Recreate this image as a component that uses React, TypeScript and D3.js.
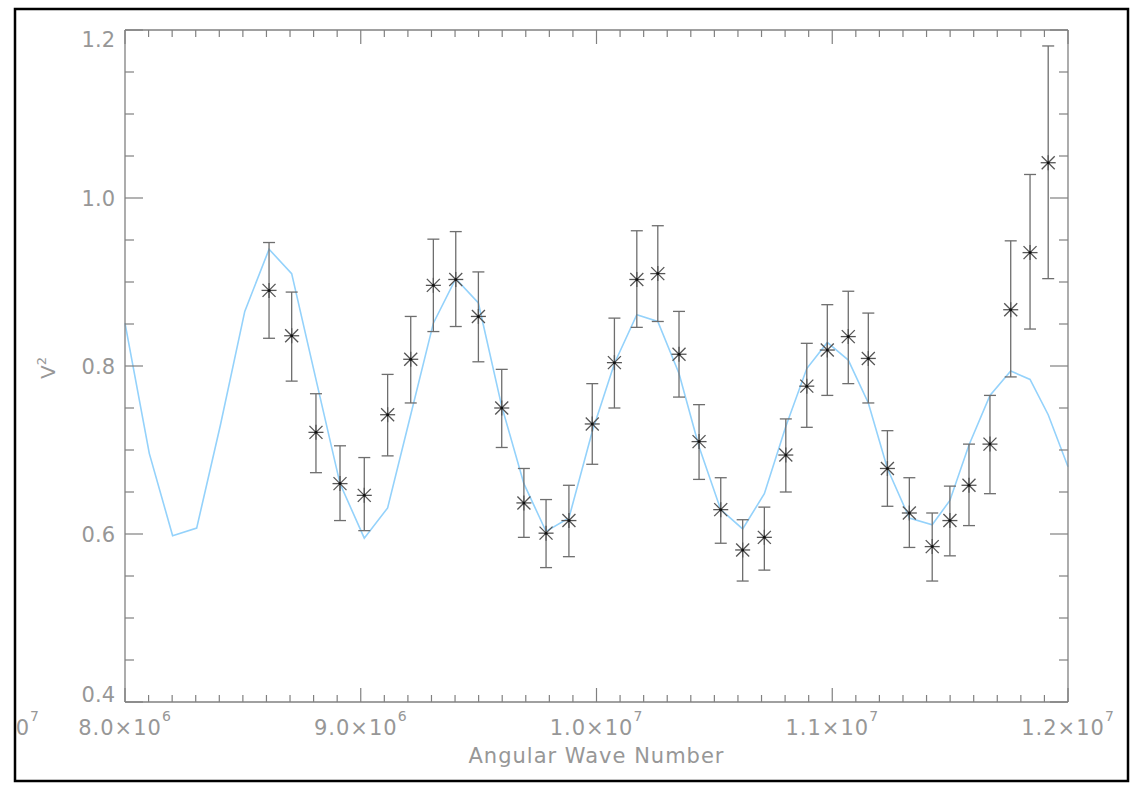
import React from "react";
import * as d3 from "d3";

// Observed data: angular wave number, V^2, error bar low/high
const obsX = [8.611e6, 8.707e6, 8.81e6, 8.912e6, 9.015e6, 9.114e6, 9.212e6, 9.308e6, 9.403e6, 9.499e6, 9.598e6, 9.692e6, 9.786e6, 9.883e6, 9.982e6, 10.076e6, 10.171e6, 10.26e6, 10.35e6, 10.435e6, 10.527e6, 10.62e6, 10.712e6, 10.803e6, 10.892e6, 10.979e6, 11.068e6, 11.153e6, 11.234e6, 11.327e6, 11.424e6, 11.499e6, 11.58e6, 11.669e6, 11.757e6, 11.839e6, 11.916e6];
const obsV2 = [0.89, 0.836, 0.721, 0.66, 0.646, 0.742, 0.808, 0.896, 0.903, 0.859, 0.75, 0.637, 0.601, 0.616, 0.731, 0.804, 0.903, 0.91, 0.814, 0.71, 0.629, 0.581, 0.596, 0.694, 0.776, 0.819, 0.835, 0.809, 0.678, 0.625, 0.585, 0.616, 0.658, 0.707, 0.867, 0.935, 1.042];
const obsHigh = [0.947, 0.888, 0.767, 0.705, 0.691, 0.79, 0.859, 0.951, 0.96, 0.912, 0.796, 0.678, 0.641, 0.658, 0.779, 0.857, 0.961, 0.967, 0.865, 0.754, 0.667, 0.617, 0.632, 0.737, 0.827, 0.873, 0.889, 0.863, 0.723, 0.667, 0.625, 0.657, 0.707, 0.765, 0.949, 1.028, 1.181];
const obsLow = [0.833, 0.782, 0.673, 0.616, 0.604, 0.693, 0.756, 0.841, 0.847, 0.805, 0.703, 0.596, 0.56, 0.573, 0.683, 0.75, 0.846, 0.853, 0.763, 0.665, 0.589, 0.544, 0.557, 0.65, 0.727, 0.765, 0.779, 0.756, 0.633, 0.584, 0.544, 0.574, 0.61, 0.648, 0.787, 0.844, 0.904];

// Model curve
const modelX = [8.0e6, 8.103e6, 8.202e6, 8.304e6, 8.405e6, 8.508e6, 8.611e6, 8.707e6, 8.81e6, 8.912e6, 9.015e6, 9.114e6, 9.212e6, 9.308e6, 9.403e6, 9.499e6, 9.598e6, 9.692e6, 9.786e6, 9.883e6, 9.982e6, 10.076e6, 10.171e6, 10.26e6, 10.35e6, 10.435e6, 10.527e6, 10.62e6, 10.712e6, 10.803e6, 10.892e6, 10.979e6, 11.068e6, 11.153e6, 11.234e6, 11.327e6, 11.424e6, 11.499e6, 11.58e6, 11.669e6, 11.757e6, 11.839e6, 11.916e6, 12.0e6];
const modelV2 = [0.851, 0.696, 0.598, 0.607, 0.73, 0.865, 0.939, 0.91, 0.784, 0.66, 0.595, 0.631, 0.742, 0.851, 0.904, 0.875, 0.752, 0.66, 0.603, 0.619, 0.722, 0.803, 0.861, 0.853, 0.791, 0.704, 0.629, 0.606, 0.648, 0.728, 0.797, 0.828, 0.807, 0.756, 0.678, 0.619, 0.611, 0.64, 0.706, 0.765, 0.794, 0.784, 0.742, 0.68];

// Ticks
const xMajorTicks = [8e6, 9e6, 1e7, 1.1e7, 1.2e7];
const xTickMantissa = ["8.0", "9.0", "1.0", "1.1", "1.2"];
const xTickExponent = ["6", "6", "7", "7", "7"];
const yMajorTicks = [0.4, 0.6, 0.8, 1.0, 1.2];
const yTickLabels = ["0.4", "0.6", "0.8", "1.0", "1.2"];
const xMinorStep = 1e5;
const yMinorStep = 0.05;

const W = 1134;
const H = 786;
const L = 125, R = 1068, T = 30, B = 702;

const FONT = "'DejaVu Sans', sans-serif";
const TXT = "#979797";
const AX = "#808080";

export default function App() {
  const x = d3.scaleLinear().domain([8e6, 1.2e7]).range([L, R]);
  const y = d3.scaleLinear().domain([0.4, 1.2]).range([B, T]);

  const xMinor = d3.range(8e6, 1.2e7 + 1, xMinorStep);
  const yMinor = d3.range(0.4, 1.2 + 1e-9, yMinorStep);

  const line = d3
    .line<number>()
    .x((_, i) => x(modelX[i]))
    .y((d) => y(d));

  const ylabelBaseline = (v: number, i: number) => {
    const p = y(v);
    if (i === yMajorTicks.length - 1) return p + 17;
    if (i === 0) return p;
    return p + 8;
  };

  return (
    <svg
      width={W}
      height={H}
      style={{ position: "fixed", left: 0, top: 0, background: "#fff" }}
      fontFamily={FONT}
    >
      <defs>
        <clipPath id="frameClip">
          <rect x={16} y={10} width={1111} height={770} />
        </clipPath>
      </defs>
      <rect x={0} y={0} width={W} height={H} fill="#fff" />

      {/* leftover label, cut by the frame as in the reference */}
      <g clipPath="url(#frameClip)">
        <text x={40} y={735} textAnchor="end" fill={TXT} fontSize={21} letterSpacing={1}>
          1.0×10
          <tspan fontSize={14} dy={-14}>7</tspan>
        </text>
      </g>

      <rect x={15} y={9} width={1113} height={772} fill="none" stroke="#000" strokeWidth={2.5} />

      {/* model curve */}
      <path d={line(modelV2) || ""} fill="none" stroke="#94d2fb" strokeWidth={1.6} />

      {/* axes frame */}
      <g stroke={AX} strokeWidth={1.3} fill="none">
        <line x1={L} y1={B} x2={R} y2={B} />
        <line x1={L} y1={T} x2={R} y2={T} />
        <line x1={L} y1={T} x2={L} y2={B} />
        <line x1={R} y1={T} x2={R} y2={B} />
      </g>

      {/* x ticks */}
      <g stroke={AX} strokeWidth={1.2}>
        {xMinor.map((v, i) => {
          const major = xMajorTicks.some((m) => Math.abs(m - v) < 1);
          const len = major ? 14 : 7;
          return (
            <g key={"xm" + i}>
              <line x1={x(v)} x2={x(v)} y1={B} y2={B - len} />
              <line x1={x(v)} x2={x(v)} y1={T} y2={T + len} />
            </g>
          );
        })}
      </g>

      {/* y ticks */}
      <g stroke={AX} strokeWidth={1.2}>
        {yMinor.map((v, i) => {
          const major = yMajorTicks.some((m) => Math.abs(m - v) < 1e-6);
          const len = major ? 18 : 9;
          return (
            <g key={"ym" + i}>
              <line x1={L} x2={L + len} y1={y(v)} y2={y(v)} />
              <line x1={R} x2={R - len} y1={y(v)} y2={y(v)} />
            </g>
          );
        })}
      </g>

      {/* x tick labels */}
      {xMajorTicks.map((v, i) => (
        <text key={"xl" + i} x={x(v)} y={735} textAnchor="middle" fill={TXT} fontSize={21} letterSpacing={1}>
          {xTickMantissa[i]}×10
          <tspan fontSize={14} dy={-14}>{xTickExponent[i]}</tspan>
        </text>
      ))}

      {/* y tick labels */}
      {yMajorTicks.map((v, i) => (
        <text key={"yl" + i} x={L - 10} y={ylabelBaseline(v, i)} textAnchor="end" fill={TXT} fontSize={21}>
          {yTickLabels[i]}
        </text>
      ))}

      {/* axis titles */}
      <text x={(L + R) / 2} y={763} textAnchor="middle" fill={TXT} fontSize={21} letterSpacing={1}>
        Angular Wave Number
      </text>
      <text transform="translate(55,368) rotate(-90)" textAnchor="middle" fill={TXT} fontSize={20}>
        V<tspan fontSize={13} dy={-9}>2</tspan>
      </text>

      {/* error bars */}
      <g stroke="#6e6e6e" strokeWidth={1.3}>
        {obsX.map((v, i) => {
          const cx = x(v);
          return (
            <g key={"eb" + i}>
              <line x1={cx} x2={cx} y1={y(obsHigh[i])} y2={y(obsLow[i])} />
              <line x1={cx - 6} x2={cx + 6} y1={y(obsHigh[i])} y2={y(obsHigh[i])} />
              <line x1={cx - 6} x2={cx + 6} y1={y(obsLow[i])} y2={y(obsLow[i])} />
            </g>
          );
        })}
      </g>

      {/* asterisk markers */}
      <g stroke="#555" strokeWidth={1.3}>
        {obsX.map((v, i) => {
          const cx = x(v);
          const cy = y(obsV2[i]);
          return (
            <g key={"mk" + i}>
              <line x1={cx - 7.5} x2={cx + 7.5} y1={cy} y2={cy} />
              <line x1={cx} x2={cx} y1={cy - 7.5} y2={cy + 7.5} />
              <line x1={cx - 6.5} x2={cx + 6.5} y1={cy - 6.5} y2={cy + 6.5} />
              <line x1={cx - 6.5} x2={cx + 6.5} y1={cy + 6.5} y2={cy - 6.5} />
              <circle cx={cx} cy={cy} r={1.5} fill="#111" stroke="none" />
            </g>
          );
        })}
      </g>
    </svg>
  );
}
